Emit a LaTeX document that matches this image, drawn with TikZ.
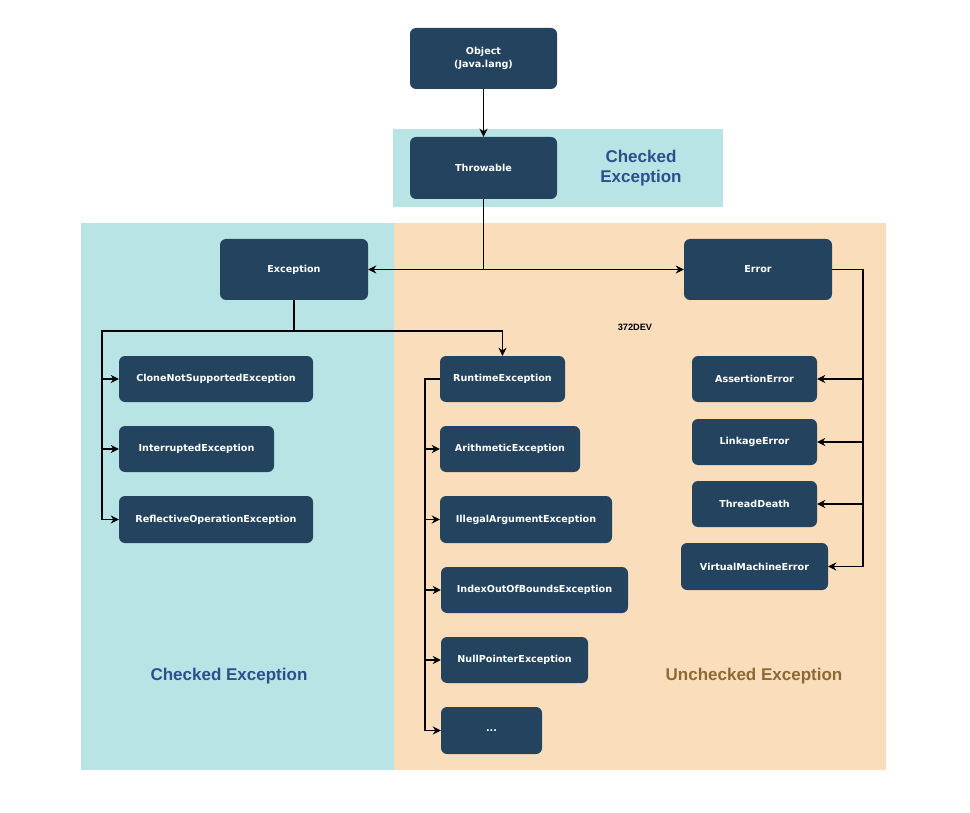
\documentclass[tikz,border=0pt]{standalone}
\usepackage{fontspec}
\setmainfont{DejaVu Sans}
\newfontfamily\arialf{Liberation Sans}
\usetikzlibrary{arrows.meta,calc}
\definecolor{nodefill}{HTML}{23435F}
\definecolor{cyanbg}{HTML}{B9E4E6}
\definecolor{orangebg}{HTML}{FADDBB}
\definecolor{bluetxt}{HTML}{2D4F8B}
\definecolor{browntxt}{HTML}{8D6934}
\begin{document}
\begin{tikzpicture}[x=1pt,y=-1pt,
  box/.style={fill=nodefill, rounded corners=6pt, text=white, font=\bfseries\fontsize{9.6}{12.5}\selectfont, align=center, inner sep=0pt},
  conn/.style={line width=1.7pt, black},
  arr/.style={conn, -{Stealth[length=8pt,width=8pt,inset=2.5pt]}},
  biglabel/.style={font=\arialf\bfseries\fontsize{17}{20}\selectfont, align=center}]
\useasboundingbox (0,0) rectangle (970,813);
\fill[white] (0,0) rectangle (970,813);
% backgrounds
\fill[cyanbg] (393,129) rectangle (723,207);
\fill[cyanbg] (81,223) rectangle (394,770);
\fill[orangebg] (394,223) rectangle (886,770);
% labels
\node[biglabel, text=bluetxt] (lblTop) at (641,168) {Checked\\Exception};
\node[biglabel, text=bluetxt] (lblLeft) at (229,676) {Checked Exception};
\node[biglabel, text=browntxt] (lblRight) at (754,676) {Unchecked Exception};
\node[font=\arialf\bfseries\fontsize{9.2}{11}\selectfont] (mark) at (635,327) {372DEV};
% nodes
\node[box, minimum width=147, minimum height=61] (Object) at (483.5,58.5) {Object\\(Java.lang)};
\node[box, minimum width=147, minimum height=62] (Throwable) at (483.5,168) {Throwable};
\node[box, minimum width=148, minimum height=61] (Exception) at (294,269.5) {Exception};
\node[box, minimum width=148, minimum height=61] (Error) at (758,269.5) {Error};
\node[box, minimum width=194, minimum height=46] (Clone) at (216,379) {CloneNotSupportedException};
\node[box, minimum width=155, minimum height=46] (Interrupted) at (196.5,449) {InterruptedException};
\node[box, minimum width=194, minimum height=47] (Reflective) at (216,519.5) {ReflectiveOperationException};
\node[box, minimum width=125, minimum height=46] (Runtime) at (502.5,379) {RuntimeException};
\node[box, minimum width=140, minimum height=46] (Arith) at (510,449) {ArithmeticException};
\node[box, minimum width=172, minimum height=47] (Illegal) at (526,519.5) {IllegalArgumentException};
\node[box, minimum width=187, minimum height=46] (Index) at (534.5,590) {IndexOutOfBoundsException};
\node[box, minimum width=147, minimum height=46] (Null) at (514.5,660) {NullPointerException};
\node[box, minimum width=101, minimum height=47] (Dots) at (491.5,730.5) {...};
\node[box, minimum width=125, minimum height=46] (Assert) at (754.5,379) {AssertionError};
\node[box, minimum width=125, minimum height=46] (Linkage) at (754.5,442) {LinkageError};
\node[box, minimum width=125, minimum height=46] (Thread) at (754.5,504) {ThreadDeath};
\node[box, minimum width=147, minimum height=47] (VME) at (754.5,566.5) {VirtualMachineError};
% connectors
\draw[arr] (Object.south) -- (Throwable.north);
\coordinate (tj) at (Throwable.south |- Exception.east);
\draw[arr] (Throwable.south) -- (tj) -- (Exception.east);
\draw[arr] (tj) -- (Error.west);
% Exception bus
\coordinate (ej) at (294,331);
\coordinate (el) at (102,331);
\draw[arr] (Exception.south) -- (ej) -- (el) -- (el |- Reflective.west) -- (Reflective.west);
\draw[arr] (el |- Clone.west) -- (Clone.west);
\draw[arr] (el |- Interrupted.west) -- (Interrupted.west);
\draw[arr] (ej) -- (Runtime.north |- ej) -- (Runtime.north);
% Runtime bus
\coordinate (rl) at (425,379);
\draw[arr] (Runtime.west) -- (rl) -- (rl |- Dots.west) -- (Dots.west);
\draw[arr] (rl |- Arith.west) -- (Arith.west);
\draw[arr] (rl |- Illegal.west) -- (Illegal.west);
\draw[arr] (rl |- Index.west) -- (Index.west);
\draw[arr] (rl |- Null.west) -- (Null.west);
% Error bus
\coordinate (er) at (863,269.5);
\draw[arr] (Error.east) -- (er) -- (er |- VME.east) -- (VME.east);
\draw[arr] (er |- Assert.east) -- (Assert.east);
\draw[arr] (er |- Linkage.east) -- (Linkage.east);
\draw[arr] (er |- Thread.east) -- (Thread.east);
\end{tikzpicture}
\end{document}
